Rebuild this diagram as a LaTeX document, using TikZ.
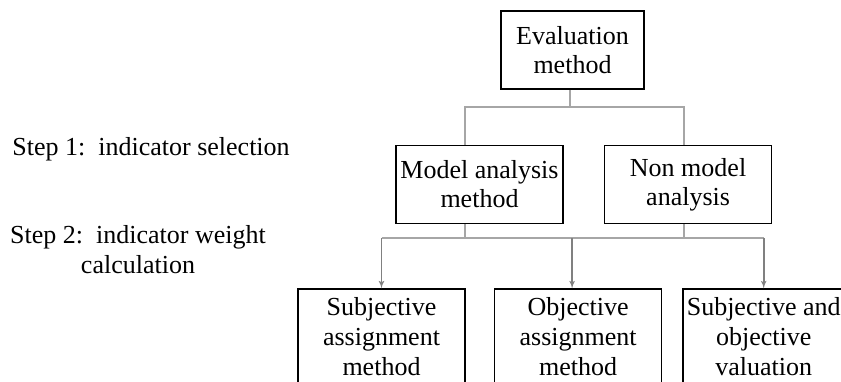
\documentclass[tikz,border=0pt]{standalone}
\usepackage{fontspec}
\setmainfont{Liberation Serif}
\usepackage{xcolor}
\usetikzlibrary{positioning}
\usetikzlibrary{arrows}
\tikzset{edge/.style = {->,> = latex'}}

\begin{document}
\begin{tikzpicture}[x=1pt,y=-1pt,node distance=40pt,thick,
    box/.style={rectangle,draw,line width=1.6pt,minimum width=167pt,minimum height=78pt,inner sep=2pt,align=center,font=\fontsize{26}{29}\selectfont},
    low box/.style={box,minimum height=94pt,font=\fontsize{26}{30}\selectfont},
    step text/.style={align=center,inner sep=0pt,font=\fontsize{26}{30}\selectfont},
    link/.style={draw=gray!70,line width=1.6pt}]
    \useasboundingbox (0,0) rectangle (841,381);
    \clip (0,0) rectangle (841,381);

    \node[box,minimum width=143pt] (1) at (572.5,50) {Evaluation\\method};
    \node[box] (2) [below=55pt of 1,xshift=-93pt] {Model analysis\\method};
    \node[box] (3) [right=40pt of 2] {Non model\\analysis};
    \node[low box] (4) [below=64pt of 2,xshift=-98pt] {Subjective\\assignment\\method};
    \node[low box] (5) [right=28pt of 4] {Objective\\assignment\\method};
    \node[low box,minimum width=161pt] (6) [right=20pt of 5] {Subjective and\\objective\\valuation};

    \node[step text,anchor=base west] (7) at (12,155) {Step 1:\ \ indicator selection};
    \node[step text] (8) at (138,250) {Step 2:\ \ indicator weight\\calculation};

    \coordinate (hi) at (0,107);
    \coordinate (lo) at (0,238);

    \path[link] ([xshift=-2.5pt]1.south) -- ([xshift=-2.5pt]1.south |- hi);
    \path[link] ([xshift=-14.5pt]2.north) |- ([xshift=-4pt]3.north |- hi) -- ([xshift=-4pt]3.north);
    \path[link] ([xshift=-14.5pt]2.south) -- ([xshift=-14.5pt]2.south |- lo);
    \path[link] ([xshift=-4pt]3.south) -- ([xshift=-4pt]3.south |- lo);
    \path[link] (4.north |- lo) -- (6.north |- lo);
    \path[link,edge,draw=gray] (4.north |- lo) -- (4.north);
    \path[link,edge,draw=gray] ([xshift=-6pt]5.north |- lo) -- ([xshift=-6pt]5.north);
    \path[link,edge,draw=gray] (6.north |- lo) -- (6.north);
\end{tikzpicture}
\end{document}
